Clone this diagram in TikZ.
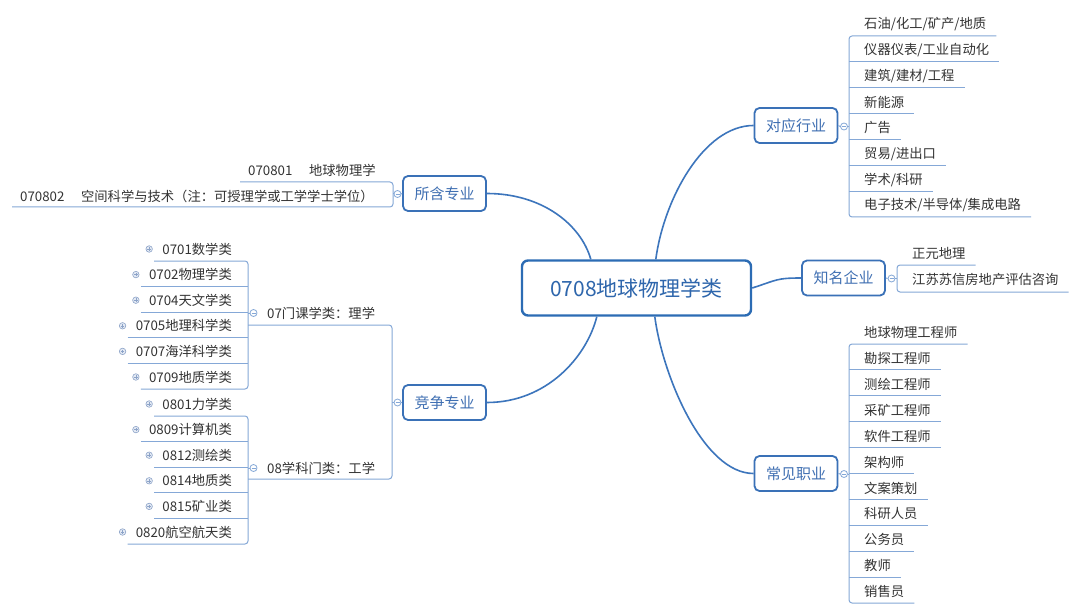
\documentclass[tikz,border=0pt]{standalone}
\usepackage{fontspec}
\setmainfont{Noto Sans CJK SC}
\definecolor{mainblue}{HTML}{2C6CB4}
\definecolor{roottext}{HTML}{2E66AC}
\definecolor{boxblue}{HTML}{3A71B7}
\definecolor{topictext}{HTML}{3F6FB2}
\definecolor{curvec}{HTML}{3C75BC}
\definecolor{brc}{HTML}{85A8D7}
\definecolor{leaftext}{HTML}{333333}
\definecolor{expc}{HTML}{8CA3C8}
\definecolor{expf}{HTML}{E4EAF4}
\begin{document}
\begin{tikzpicture}[x=1pt,y=-1pt,
  root/.style={draw=mainblue, line width=2.4pt, rounded corners=6pt, fill=white,
    minimum width=229pt, minimum height=55pt, inner sep=0pt, text=roottext,
    font=\fontsize{21}{24}\selectfont},
  topic/.style={draw=boxblue, line width=1.8pt, rounded corners=5pt, fill=white,
    minimum width=83pt, minimum height=35pt, inner sep=0pt, text=topictext,
    font=\fontsize{15}{18}\selectfont},
  leaffont/.style={text=leaftext, font=\fontsize{13.3}{16}\selectfont, inner ysep=0pt},
  leafR/.style={leaffont, anchor=west, inner xsep=10pt},
  leafL/.style={leaffont, anchor=east, inner xsep=8pt},
  leafW/.style={leaffont, anchor=west, inner xsep=8pt},
  br/.style={draw=brc, line width=1pt},
  brr/.style={draw=brc, line width=1pt, rounded corners=3pt},
  cv/.style={draw=curvec, line width=1.6pt},
  tog/.style={circle, draw=brc, line width=0.8pt, fill=white, minimum size=7pt, inner sep=0pt,
    path picture={\draw[brc, line width=0.7pt]
      ([xshift=-2pt]path picture bounding box.center) -- ([xshift=2pt]path picture bounding box.center);}},
  ex/.style={circle, draw=expc, fill=expf, line width=0.6pt, minimum size=6.5pt, inner sep=0pt,
    path picture={\draw[expc, line width=0.6pt]
      ([xshift=-1.8pt]path picture bounding box.center) -- ([xshift=1.8pt]path picture bounding box.center)
      ([yshift=-1.8pt]path picture bounding box.center) -- ([yshift=1.8pt]path picture bounding box.center);}}
]
\useasboundingbox (0,0) rectangle (1080,615);
\fill[white] (0,0) rectangle (1080,615);

% ---------- root ----------
\node[root] (root) at (636.5,288) {0708地球物理学类};

% ---------- topics ----------
\node[topic] (sh) at (444.5,193.5) {所含专业};
\node[topic] (jz) at (444.5,402.5) {竞争专业};
\node[topic] (hy) at (796,125.5) {对应行业};
\node[topic] (qy) at (843.5,278) {知名企业};
\node[topic] (zy) at (796,473.5) {常见职业};

% ---------- curves ----------
\draw[cv] (sh.east) .. controls +(55,0) and +(-10,-35) .. ([xshift=70pt]root.north west);
\draw[cv] (jz.east) .. controls +(60,0) and +(-10,40) .. ([xshift=76pt]root.south west);
\draw[cv] (hy.west) .. controls +(-50,0) and +(8,-60) .. ([xshift=135pt]root.north west);
\draw[cv] (root.east) .. controls +(25,-8) and +(-25,0) .. (qy.west);
\draw[cv] (zy.west) .. controls +(-50,0) and +(8,60) .. ([xshift=134pt]root.south west);

% ---------- 所含专业 ----------
\node[tog] (sht) at (397.5,194) {};
\draw[br] (sh.west) -- (sht.east);
\draw[br] (sht.west) -- (393,194);
\node[leafW] (s1) at (240,170) {070801\hspace{1.25em}地球物理学};
\node[leafW] (s2) at (12,196) {070802\hspace{1.25em}空间科学与技术（注：可授理学或工学学士学位）};
\draw[brr] (s1.west |- 0,182) -- (393,182) -- (393,207) -- (s2.west |- 0,207);

% ---------- 竞争专业 ----------
\node[tog] (jzt) at (397.5,402.5) {};
\draw[br] (jz.west) -- (jzt.east);
\draw[br] (jzt.west) -- (392,402.5);
\node[leaffont, anchor=west, inner xsep=0pt] (g7) at (267,313) {07门课学类：理学};
\node[leaffont, anchor=west, inner xsep=0pt] (g8) at (267,468) {08学科门类：工学};
\node[tog] (g7t) at (253.5,313) {};
\node[tog] (g8t) at (253.5,468) {};
\draw[brr] (248,325) -- (392,325) -- (392,479) -- (248,479);
\draw[br] (248,313) -- (g7t.west);
\draw[br] (248,468) -- (g8t.west);

% 07 children
\foreach \t [count=\i] in {0701数学类,0702物理学类,0704天文学类,0705地理科学类,0707海洋科学类,0709地质学类}{
  \pgfmathsetmacro\uy{261+25.6*(\i-1)}
  \node[leafL] (a\i) at (240,\uy-12) {\t};
  \node[ex] at ([xshift=-5pt]a\i.west) {};
}
\foreach \i in {2,...,5}{
  \pgfmathsetmacro\uy{261+25.6*(\i-1)}
  \draw[br] (a\i.west |- 0,\uy) -- (248,\uy);
}
\draw[brr] (a1.west |- 0,261) -- (248,261) -- (248,389) -- (a6.west |- 0,389);

% 08 children
\foreach \t [count=\i] in {0801力学类,0809计算机类,0812测绘类,0814地质类,0815矿业类,0820航空航天类}{
  \pgfmathsetmacro\uy{416+25.6*(\i-1)}
  \node[leafL] (b\i) at (240,\uy-12) {\t};
  \node[ex] at ([xshift=-5pt]b\i.west) {};
}
\foreach \i in {2,...,5}{
  \pgfmathsetmacro\uy{416+25.6*(\i-1)}
  \draw[br] (b\i.west |- 0,\uy) -- (248,\uy);
}
\draw[brr] (b1.west |- 0,416) -- (248,416) -- (248,544) -- (b6.west |- 0,544);

% ---------- 对应行业 ----------
\node[tog] (hyt) at (844,126.5) {};
\draw[br] (hy.east) -- (hyt.west);
\draw[br] (hyt.east) -- (849,126.5);
\foreach \t [count=\i] in {石油/化工/矿产/地质,仪器仪表/工业自动化,建筑/建材/工程,新能源,广告,贸易/进出口,学术/科研,电子技术/半导体/集成电路}{
  \pgfmathsetmacro\uy{36+25.86*(\i-1)}
  \node[leafR] (h\i) at (854,\uy-11.5) {\t};
}
\foreach \i in {2,...,7}{
  \pgfmathsetmacro\uy{36+25.86*(\i-1)}
  \draw[br] (849,\uy) -- (h\i.east |- 0,\uy);
}
\draw[brr] (h1.east |- 0,36) -- (849,36) -- (849,217) -- (h8.east |- 0,217);

% ---------- 知名企业 ----------
\node[tog] (qyt) at (891.5,278.5) {};
\draw[br] (qy.east) -- (qyt.west);
\draw[br] (qyt.east) -- (897,278.5);
\node[leafR] (q1) at (902,253) {正元地理};
\node[leafR] (q2) at (902,280) {江苏苏信房地产评估咨询};
\draw[brr] (q1.east |- 0,265) -- (897,265) -- (897,292) -- (q2.east |- 0,292);

% ---------- 常见职业 ----------
\node[tog] (zyt) at (844,474) {};
\draw[br] (zy.east) -- (zyt.west);
\draw[br] (zyt.east) -- (849,474);
\foreach \t [count=\i] in {地球物理工程师,勘探工程师,测绘工程师,采矿工程师,软件工程师,架构师,文案策划,科研人员,公务员,教师,销售员}{
  \pgfmathsetmacro\uy{344+25.9*(\i-1)}
  \node[leafR] (z\i) at (854,\uy-11.5) {\t};
}
\foreach \i in {2,...,10}{
  \pgfmathsetmacro\uy{344+25.9*(\i-1)}
  \draw[br] (849,\uy) -- (z\i.east |- 0,\uy);
}
\draw[brr] (z1.east |- 0,344) -- (849,344) -- (849,603) -- (z11.east |- 0,603);
\end{tikzpicture}
\end{document}
